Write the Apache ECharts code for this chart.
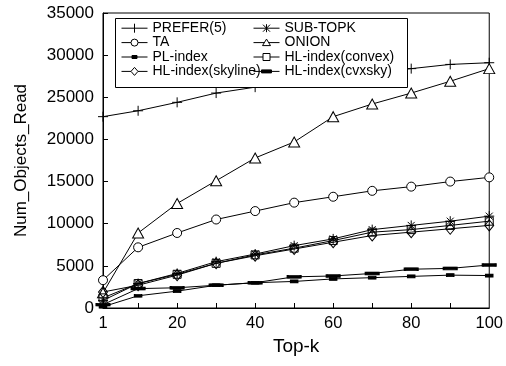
<!DOCTYPE html>
<html>
<head>
<meta charset="utf-8">
<script src="https://cdn.jsdelivr.net/npm/echarts@6/dist/echarts.min.js"></script>
<style>
html,body{margin:0;padding:0;background:#fff;}
#chart{width:506px;height:366px;}
</style>
</head>
<body>
<div id="chart"></div>
<script>
const topK = [1, 10, 20, 30, 40, 50, 60, 70, 80, 90, 100];
const prefer5 = [22700, 23400, 24400, 25500, 26200, 26900, 27500, 28000, 28400, 28900, 29100];
const subTopk = [900, 2900, 4100, 5500, 6400, 7400, 8200, 9300, 9800, 10300, 10900];
const ta = [3300, 7200, 8900, 10500, 11500, 12500, 13200, 13900, 14400, 15000, 15500];
const onion = [1800, 8900, 12400, 15100, 17800, 19700, 22700, 24200, 25500, 26900, 28400];
const plIndex = [150, 1450, 2000, 2700, 3000, 3150, 3450, 3600, 3750, 3900, 3850];
const hlConvex = [1200, 2900, 4000, 5300, 6300, 7100, 8000, 9000, 9300, 9800, 10300];
const hlSkyline = [1900, 2700, 3900, 5300, 6200, 7000, 7800, 8600, 9000, 9400, 9800];
const hlCvxsky = [400, 2300, 2400, 2700, 3000, 3700, 3800, 4100, 4600, 4700, 5100];
const xLabelValues = [1, 20, 40, 60, 80, 100];
const xTickValues = [10, 20, 30, 40, 50, 60, 70, 80, 90];
const legendCol1 = ['PREFER(5)', 'TA', 'PL-index', 'HL-index(skyline)'];
const legendCol2 = ['SUB-TOPK', 'ONION', 'HL-index(convex)', 'HL-index(cvxsky)'];

const FONT = 'Liberation Sans';
const pts = arr => topK.map((k, i) => [k, arr[i]]);
const CLEAR = 'rgba(0,0,0,0)';

// marker shapes
const PLUS = 'path://M0,5L10,5M5,0L5,10';
const STAR = 'path://M0,5L10,5M5,0L5,10M1.5,1.5L8.5,8.5M8.5,1.5L1.5,8.5';
const TRI = 'path://M5,0L10,9L0,9Z';
const DIA = 'path://M5,0L10,6L5,12L0,6Z';

// legend icons (line + marker), box 26x10
const BOX = 'path://M0,0M26,10';
const ICONS = {
  'PREFER(5)': BOX + 'M0,5L26,5M13,0.5L13,9.5',
  'SUB-TOPK': BOX + 'M0,5L26,5M13,1L13,9M9.5,1.5L16.5,8.5M16.5,1.5L9.5,8.5',
  'TA': BOX + 'M0,5L9.5,5M16.5,5L26,5M9.5,5A3.5,3.5,0,1,1,16.5,5A3.5,3.5,0,1,1,9.5,5Z',
  'ONION': BOX + 'M0,5L10.85,5M15.15,5L26,5M13,1.5L17,8L9,8Z',
  'PL-index': BOX + 'M0,5L26,5M10.5,3.5L15.5,3.5L15.5,6.5L10.5,6.5Z',
  'HL-index(convex)': BOX + 'M0,5L9.5,5M16.5,5L26,5M9.5,1.5L16.5,1.5L16.5,8.5L9.5,8.5Z',
  'HL-index(skyline)': BOX + 'M0,5L9.5,5M16.5,5L26,5M13,1L16.5,5L13,9L9.5,5Z',
  'HL-index(cvxsky)': BOX + 'M0,5L26,5M8,3.5L18,3.5L18,6.5L8,6.5Z'
};
const FILLS = {
  'PREFER(5)': CLEAR, 'SUB-TOPK': CLEAR, 'TA': '#fff', 'ONION': '#fff',
  'PL-index': '#000', 'HL-index(convex)': CLEAR, 'HL-index(skyline)': CLEAR, 'HL-index(cvxsky)': '#000'
};

function mk(name, arr, symbol, size) {
  return {
    name: name, type: 'line', data: pts(arr),
    symbol: symbol, symbolSize: size, showSymbol: true,
    lineStyle: { color: '#000', width: 1 },
    itemStyle: { color: FILLS[name], borderColor: '#000', borderWidth: 1 },
    emphasis: { disabled: true },
    animation: false
  };
}

const series = [
  mk('PREFER(5)', prefer5, PLUS, 10),
  mk('SUB-TOPK', subTopk, STAR, 10),
  mk('TA', ta, 'circle', 9),
  mk('ONION', onion, TRI, [11, 10]),
  mk('PL-index', plIndex, 'rect', [7, 3]),
  mk('HL-index(convex)', hlConvex, 'rect', 8),
  mk('HL-index(skyline)', hlSkyline, DIA, [9, 11]),
  mk('HL-index(cvxsky)', hlCvxsky, 'rect', [13, 3])
];

const legendData = names => names.map(n => ({
  name: n, icon: ICONS[n],
  itemStyle: { color: FILLS[n], borderColor: '#000', borderWidth: 1 }
}));

const legendCommon = {
  orient: 'vertical', itemWidth: 26, itemHeight: 10, itemGap: 0,
  textStyle: { fontFamily: FONT, fontSize: 14, lineHeight: 14.4, color: '#000' },
  selectedMode: false, padding: 0, z: 10
};

const chart = echarts.init(document.getElementById('chart'), null, { renderer: 'canvas' });
chart.setOption({
  animation: false,
  backgroundColor: '#fff',
  grid: { left: 103, right: 15, top: 13, bottom: 58, show: true, borderColor: '#000', borderWidth: 1, backgroundColor: 'transparent' },
  legend: [
    Object.assign({ left: 121, top: 21, data: legendData(legendCol1) }, legendCommon),
    Object.assign({ left: 253, top: 21, data: legendData(legendCol2) }, legendCommon)
  ],
  graphic: [{
    type: 'rect', left: 115, top: 18, z: 5, shape: { width: 292, height: 69 },
    style: { fill: '#fff', stroke: '#000', lineWidth: 1 }, silent: true
  }],
  xAxis: {
    type: 'value', min: 1, max: 100,
    name: 'Top-k', nameLocation: 'middle', nameGap: 28,
    nameTextStyle: { fontFamily: FONT, fontSize: 19, color: '#000' },
    axisLine: { lineStyle: { color: '#000', width: 1 } },
    axisTick: { inside: true, length: 5, customValues: xTickValues, lineStyle: { color: '#000' } },
    axisLabel: { customValues: xLabelValues, fontFamily: FONT, fontSize: 16.5, color: '#000', margin: 7 },
    splitLine: { show: false }
  },
  yAxis: {
    type: 'value', min: 0, max: 35000, interval: 5000,
    name: 'Num_Objects_Read', nameLocation: 'middle', nameGap: 73, nameRotate: 90,
    nameTextStyle: { fontFamily: FONT, fontSize: 17, color: '#000' },
    axisLine: { show: true, lineStyle: { color: '#000', width: 1 } },
    axisTick: { show: true, inside: true, length: 5, lineStyle: { color: '#000' } },
    axisLabel: { fontFamily: FONT, fontSize: 17, color: '#000', margin: 9, formatter: v => String(v) },
    splitLine: { show: false }
  },
  series: series
});
</script>
</body>
</html>
